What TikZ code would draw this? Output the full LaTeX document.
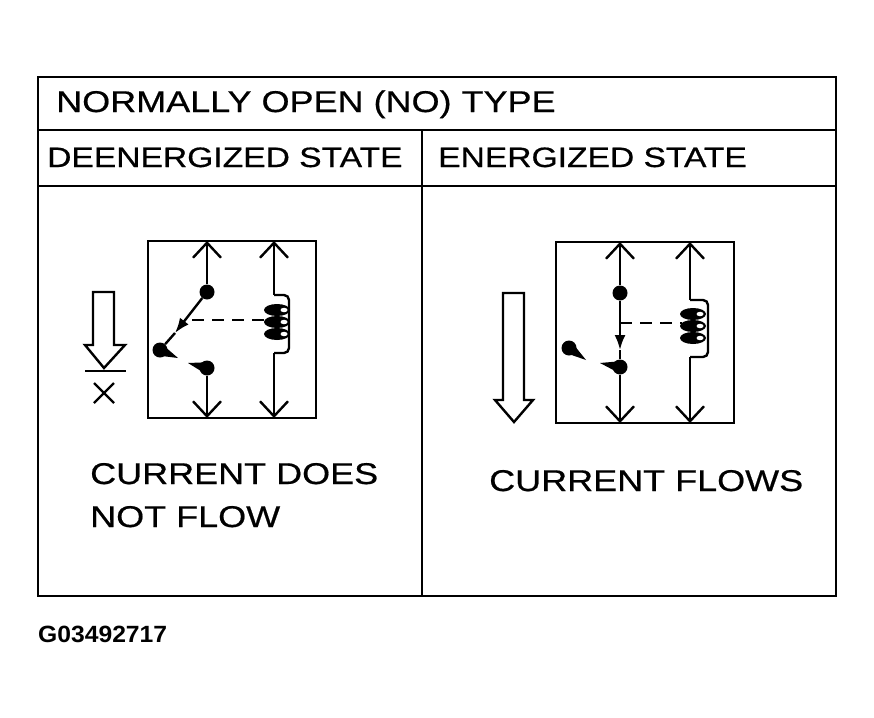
\documentclass[tikz,border=0pt]{standalone}
\usepackage{fontspec}
\usepackage{tikz}
\usetikzlibrary{arrows.meta, calc}
\newfontfamily\labelfont[FakeStretch=1.2, FakeBold=0.6]{Liberation Sans}
\newfontfamily\codefont[FakeStretch=1.05]{Liberation Sans}

\tikzset{
  frame/.style={line width=2.8},
  lbl/.style={anchor=base west, inner sep=0, font=\labelfont\fontsize{28}{34}\selectfont},
  biglbl/.style={lbl, font=\labelfont\fontsize{30}{36}\selectfont},
  dot/.style={circle, fill, inner sep=0, minimum size=15},
  wire/.style={line width=2.4},
  vline/.style={wire, -{Straight Barb[length=15, width=28, line width=2.4]}},
  midarrow/.style={wire, -{Latex[length=15, width=11]}},
  linkline/.style={line width=2.6, dash pattern=on 12 off 8},
  hollow/.style={line width=2.4, line join=miter}
}
\newcommand{\tailof}[2]{\fill ($(#1)!6pt!90:(#2)$) -- (#2) -- ($(#1)!6pt!-90:(#2)$) -- cycle;}

\begin{document}
\begin{tikzpicture}[x=1pt, y=-1pt]
      \useasboundingbox (0,0) rectangle (874,717);
      \draw[frame] (38,77) rectangle (836,596);
      \draw[frame] (38,130) -- (836,130) (38,186) -- (836,186) (422,130) -- (422,596);

      \node[biglbl] (title) at (56,112) {NORMALLY OPEN (NO) TYPE};
      \node[lbl] (off) at (47,167) {DEENERGIZED STATE};
      \node[lbl] (on) at (438,167) {ENERGIZED STATE};
      \node[biglbl] (offa) at (90,484) {CURRENT DOES};
      \node[biglbl] (offb) at (90,527) {NOT FLOW};
      \node[biglbl] (onflow) at (489,491) {CURRENT FLOWS};
      \node[anchor=base west, inner sep=0, font=\codefont\bfseries\fontsize{23.5}{28}\selectfont] (code) at (38,642) {G03492717};

      % deenergized
      \draw[wire] (148,241) rectangle (316,418);
      \node[dot] (lu) at (207,292) {};
      \node[dot] (ll) at (207,368) {};
      \node[dot] (lp) at (160,350) {};
      \coordinate (lt1) at (207,241);
      \coordinate (lb1) at (207,418);
      \coordinate (lt2) at (274,241);
      \coordinate (lb2) at (274,418);
      \draw[vline] (lu) -- (lt1);
      \draw[vline] (ll) -- (lb1);
      \tailof{ll}{188,363}
      \tailof{lp}{178,358}
      \draw[midarrow] (lu) -- (175,333);
      \draw[wire] (175,333) -- (lp);
      \draw[linkline] (192,320) -- (266,320);
      \draw[vline] (274,295) -- (lt2);
      \draw[vline] (274,353) -- (lb2);
      \draw[wire, rounded corners=5] (274,295) -- (289,295) -- (289,353) -- (274,353);
      \foreach \yy in {310,322,334} {
        \fill (277,\yy) ellipse [x radius=13, y radius=6];
        \fill[white] (284,\yy) ellipse [x radius=3.5, y radius=2.2];
      }
      \draw[hollow] (93,292) -- (114,292) -- (114,345) -- (125,345) -- (104,368)
        -- (85,345) -- (93,345) -- cycle;
      \draw[wire] (85,371) -- (126,371);
      \draw[wire] (94,383) -- (114,403) (114,383) -- (94,403);

      % energized
      \draw[wire] (556,242) rectangle (734,423);
      \node[dot] (ru) at (620,293) {};
      \node[dot] (rl) at (620,367) {};
      \node[dot] (rp) at (569,348) {};
      \coordinate (rt1) at (620,242);
      \coordinate (rb1) at (620,423);
      \coordinate (rt2) at (690,242);
      \coordinate (rb2) at (690,423);
      \draw[vline] (ru) -- (rt1);
      \draw[vline] (rl) -- (rb1);
      \draw[midarrow] (ru) -- (620,350);
      \draw[wire] (620,350) -- (rl);
      \tailof{rl}{600,363}
      \tailof{rp}{586,360}
      \draw[linkline] (620,323) -- (682,323);
      \draw[vline] (690,300) -- (rt2);
      \draw[vline] (690,357) -- (rb2);
      \draw[wire, rounded corners=5] (690,300) -- (708,300) -- (708,357) -- (690,357);
      \foreach \yy in {314,326,338} {
        \fill (693,\yy) ellipse [x radius=13, y radius=6];
        \fill[white] (700,\yy) ellipse [x radius=3.5, y radius=2.2];
      }
      \draw[hollow] (503,293) -- (524,293) -- (524,400) -- (533,400) -- (514,422)
        -- (495,400) -- (503,400) -- cycle;
    \end{tikzpicture}
\end{document}
